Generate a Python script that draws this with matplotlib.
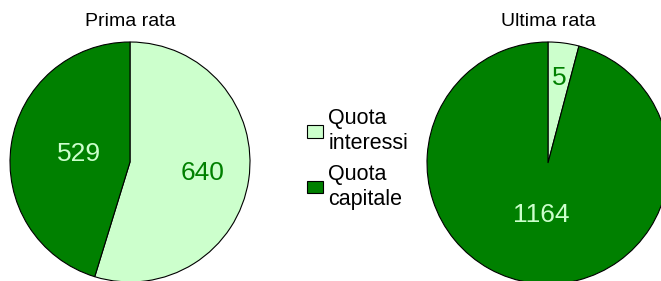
import numpy as np
import matplotlib
matplotlib.use("Agg")
from matplotlib import pyplot as plt

plt.rcParams['font.family'] = ['Liberation Sans', 'DejaVu Sans']

# categories and values
categorie = ["Quota\ninteressi", "Quota\ncapitale"]
prima_valori = [640, 529]
prima_etichette = ["640", "529"]
# slice size (about 15 degrees), label as printed
ultima_valori = [50, 1164]
ultima_etichette = ["5", "1164"]

colori = ["#ccffcc", "#008000"]
colori_testo = ["#008000", "#ccffcc"]

W, H = 661, 281
fig = plt.figure(figsize=(W / 100, H / 100), dpi=100)

def disegna(cx, cy, r, valori, etichette, distanze, titolo, ty):
    ax = fig.add_axes([(cx - r) / W, (H - cy - r) / H, 2 * r / W, 2 * r / H])
    wedges, _ = ax.pie(valori, colors=colori, startangle=90, counterclock=False,
                       wedgeprops=dict(edgecolor='black', linewidth=0.8))
    for w in wedges:
        w.set_clip_on(False)
    ax.set_xlim(-1, 1)
    ax.set_ylim(-1, 1)
    ax.axis('off')
    for w, lab, d, c in zip(wedges, etichette, distanze, colori_testo):
        ang = np.deg2rad((w.theta1 + w.theta2) / 2)
        ax.text(d * np.cos(ang), d * np.sin(ang), lab, ha='center', va='center',
                fontsize=19, color=c)
    fig.text(cx / W, 1 - ty / H, titolo, ha='center', va='center', fontsize=14)
    return wedges

wl = disegna(130, 162, 120, prima_valori, prima_etichette, [0.61, 0.43], "Prima rata", 21)
disegna(548, 163, 121, ultima_valori, ultima_etichette, [0.71, 0.43], "Ultima rata", 22)

leg = fig.legend(wl, categorie, loc='center left', bbox_to_anchor=(298 / W, 1 - 159 / H),
                 frameon=False, fontsize=15.5, handlelength=0.75, handleheight=0.5,
                 handletextpad=0.25, labelspacing=0.45, borderaxespad=0)
for t in leg.get_texts():
    t.set_linespacing(1.25)

fig.savefig("out.png", dpi=100)
